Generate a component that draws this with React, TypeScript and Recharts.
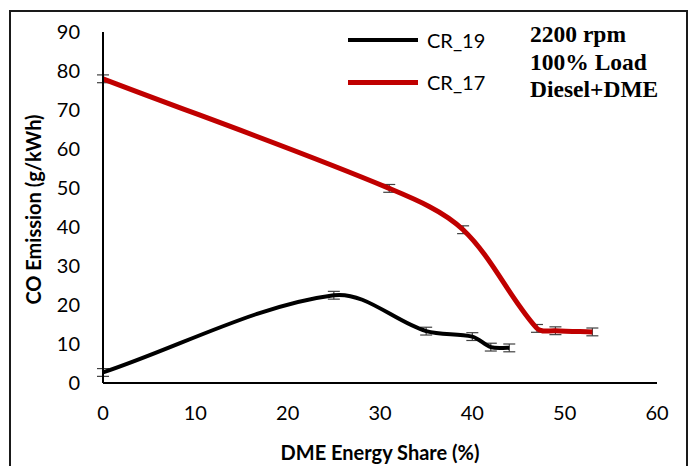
import React from 'react';
import { LineChart, Line, XAxis, YAxis, ErrorBar, Legend, Label } from 'recharts';

// DME energy share (%) and CO emission (g/kWh) per compression ratio
const cr19Share = [0, 25, 35, 40, 42, 44];
const cr19CO = [2.7, 22.5, 13.3, 11.9, 9.2, 9.0];
const cr17Share = [0, 31, 39, 47, 49, 53];
const cr17CO = [78, 49.9, 39.3, 14.0, 13.4, 13.1];
const errorSize = 1;

const seriesNames = ['CR_19', 'CR_17'];
const xTicks = [0, 10, 20, 30, 40, 50, 60];
const yTicks = [0, 10, 20, 30, 40, 50, 60, 70, 80, 90];
const noteLines = ['2200 rpm', '100% Load', 'Diesel+DME'];

const toRows = (xs: number[], ys: number[]) =>
  xs.map((x, i) => ({ share: x, co: ys[i], err: errorSize }));

const cr19Data = toRows(cr19Share, cr19CO);
const cr17Data = toRows(cr17Share, cr17CO);

// Smoothed line: cubic Bezier segments whose control arms are scaled by the
// neighbouring chord lengths, so short segments do not overshoot.
function smoothCurve(context: any) {
  let pts: number[][] = [];
  let inArea = NaN;
  const dist = (a: number[], b: number[]) => Math.hypot(b[0] - a[0], b[1] - a[1]);
  return {
    areaStart() { inArea = 0; },
    areaEnd() { inArea = NaN; },
    lineStart() { pts = []; },
    point(x: number, y: number) { pts.push([+x, +y]); },
    lineEnd() {
      const n = pts.length;
      if (!n) return;
      context.moveTo(pts[0][0], pts[0][1]);
      for (let i = 0; i < n - 1; i++) {
        const p0 = pts[i - 1] || pts[i];
        const p1 = pts[i];
        const p2 = pts[i + 1];
        const p3 = pts[i + 2] || pts[i + 1];
        const d01 = dist(p0, p1);
        const d12 = dist(p1, p2);
        const d23 = dist(p2, p3);
        const f1 = d01 + d12 > 0 ? d12 / (d01 + d12) / 3 : 0;
        const f2 = d12 + d23 > 0 ? d12 / (d12 + d23) / 3 : 0;
        const c1x = p1[0] + (p2[0] - p0[0]) * f1;
        const c1y = p1[1] + (p2[1] - p0[1]) * f1;
        const c2x = p2[0] - (p3[0] - p1[0]) * f2;
        const c2y = p2[1] - (p3[1] - p1[1]) * f2;
        context.bezierCurveTo(c1x, c1y, c2x, c2y, p2[0], p2[1]);
      }
      if (inArea === 0) context.closePath();
    },
  };
}

const tickFont = { fontFamily: 'Lato', fontSize: 20, fill: '#000' };
const titleFont = { fontFamily: 'Lato', fontSize: 20, fontWeight: 700, fill: '#000' };

const LegendBox = (props: any) => {
  const items = ((props.payload || []) as any[])
    .slice()
    .sort((a, b) => seriesNames.indexOf(a.value) - seriesNames.indexOf(b.value));
  return (
    <div style={{ fontFamily: 'Lato', fontSize: 20, color: '#000' }}>
      {items.map((it) => (
        <div key={it.value} style={{ display: 'flex', alignItems: 'center', height: 42 }}>
          <div
            style={{
              width: 70,
              height: it.value === 'CR_17' ? 5 : 4,
              background: it.color,
              marginRight: 9,
            }}
          />
          <span>{it.value}</span>
        </div>
      ))}
    </div>
  );
};

export default function App() {
  return (
    <div
      style={{
        position: 'fixed',
        left: 0,
        top: 0,
        width: 692,
        height: 466,
        overflow: 'hidden',
        background: '#fff',
      }}
    >
      <div
        style={{
          position: 'absolute',
          left: 9,
          top: 10,
          width: 679,
          height: 480,
          border: '2px solid #1a1a1a',
          boxSizing: 'border-box',
        }}
      />
      <div style={{ position: 'absolute', left: 0, top: 0 }}>
        <LineChart width={692} height={466} margin={{ top: 32, right: 35, bottom: 23, left: 43 }}>
          <XAxis
            type="number"
            dataKey="share"
            domain={[0, 60]}
            ticks={xTicks}
            allowDuplicatedCategory={false}
            height={60}
            tickLine={false}
            tickSize={0}
            tickMargin={23}
            axisLine={{ stroke: '#000', strokeWidth: 2 }}
            tick={tickFont}
          >
            <Label
              content={(p: any) => {
                const vb = p.viewBox || {};
                return (
                  <text
                    x={vb.x + vb.width / 2}
                    y={vb.y + 69}
                    textAnchor="middle"
                    dominantBaseline="central"
                    {...titleFont}
                  >
                    DME Energy Share (%)
                  </text>
                );
              }}
            />
          </XAxis>
          <YAxis
            type="number"
            domain={[0, 90]}
            ticks={yTicks}
            width={60}
            tickLine={false}
            tickSize={0}
            tickMargin={23}
            axisLine={{ stroke: '#000', strokeWidth: 2 }}
            tick={tickFont}
          >
            <Label
              content={(p: any) => {
                const vb = p.viewBox || {};
                const cx = vb.x - 10;
                const cy = vb.y + vb.height / 2 + 2;
                return (
                  <text
                    x={cx}
                    y={cy}
                    transform={`rotate(-90, ${cx}, ${cy})`}
                    textAnchor="middle"
                    dominantBaseline="central"
                    {...titleFont}
                  >
                    CO Emission (g/kWh)
                  </text>
                );
              }}
            />
          </YAxis>
          <Legend
            layout="horizontal"
            verticalAlign="middle"
            align="center"
            content={<LegendBox />}
            wrapperStyle={{ position: 'absolute', left: 348, top: 19, width: 140, height: 84 }}
          />
          <Line
            data={cr19Data}
            dataKey="co"
            name="CR_19"
            type={smoothCurve as any}
            stroke="#000000"
            strokeWidth={4}
            dot={false}
            activeDot={false}
            isAnimationActive={false}
          >
            <ErrorBar dataKey="err" direction="y" width={6} stroke="#404040" strokeWidth={1.2} />
          </Line>
          <Line
            data={cr17Data}
            dataKey="co"
            name="CR_17"
            type={smoothCurve as any}
            stroke="#C00000"
            strokeWidth={5}
            dot={false}
            activeDot={false}
            isAnimationActive={false}
          >
            <ErrorBar dataKey="err" direction="y" width={6} stroke="#404040" strokeWidth={1.2} />
          </Line>
        </LineChart>
      </div>
      <div
        style={{
          position: 'absolute',
          left: 530,
          top: 21,
          fontFamily: '"Liberation Serif", serif',
          fontWeight: 700,
          fontSize: 23.5,
          lineHeight: '27.5px',
          color: '#000',
        }}
      >
        {noteLines.map((t) => (
          <div key={t}>{t}</div>
        ))}
      </div>
    </div>
  );
}
